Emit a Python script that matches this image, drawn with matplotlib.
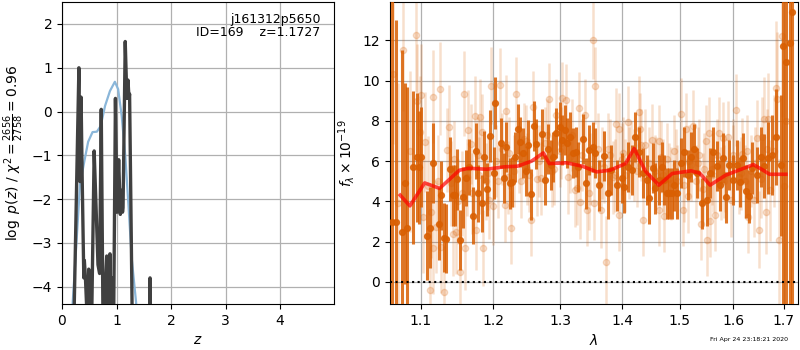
import numpy as np
import matplotlib
matplotlib.use('Agg')
import matplotlib.pyplot as plt
from matplotlib.ticker import FixedLocator, NullLocator, FormatStrFormatter

# ---- left panel: p(z)
z_pz = [0.20, 0.31, 0.33, 0.35, 0.37, 0.40, 0.41, 0.43, 0.45, 0.47, 0.49, 0.51,
        0.53, 0.59, 0.62, 0.66, 0.69, 0.72, 0.76, 0.78, 0.82, 0.84, 0.88, 0.90,
        0.92, 0.94, 0.98, 1.01, 1.04, 1.07, 1.09, 1.11, 1.12, 1.16, 1.19, 1.21,
        1.23, 1.24, 1.30]
logp = [-6.0, 1.0, -1.6, 0.33, -1.5, -3.8, -3.4, -3.8, -4.4, -6.0, -3.6, -6.0,
        -6.0, -0.9, -2.0, -3.5, -3.7, 0.05, -6.0, -4.4, -3.3, -6.0, -3.25, -6.0,
        -3.8, -6.0, 0.3, -2.3, -1.1, -2.35, -1.8, -2.3, -2.2, 1.6, 0.3, 0.72,
        0.3, 0.4, -6.0]
z_spike = [1.60, 1.615, 1.63]
logp_spike = [-6.0, -3.8, -6.0]

z_prior = [0.17, 0.196, 0.27, 0.33, 0.42, 0.48, 0.56, 0.64, 0.71, 0.79, 0.88,
           0.97, 1.03, 1.095, 1.16, 1.22, 1.28, 1.36, 1.40]
lp_prior = [-6.0, -4.37, -2.9, -1.67, -1.07, -0.69, -0.47, -0.46, -0.33, 0.13,
            0.47, 0.68, 0.51, -0.1, -1.0, -2.15, -3.37, -4.37, -6.0]

# ---- right panel: spectrum
wave_bin = [1.0620, 1.0678, 1.0753, 1.0789, 1.0823, 1.0895, 1.0947, 1.0974, 1.1004,
            1.1083, 1.1115, 1.1159, 1.1235, 1.1262, 1.1306, 1.1343, 1.1384, 1.1429,
            1.1466, 1.1488, 1.1535, 1.1567, 1.1605, 1.1660, 1.1716, 1.1752, 1.1776,
            1.1836, 1.1870, 1.1903, 1.1950, 1.2003, 1.2027, 1.2114, 1.2148, 1.2187,
            1.2246, 1.2276, 1.2309, 1.2358, 1.2393, 1.2432, 1.2472, 1.2507, 1.2552,
            1.2597, 1.2633, 1.2718, 1.2759, 1.2809, 1.2850, 1.2886, 1.2939, 1.2990,
            1.3032, 1.3068, 1.3104, 1.3157, 1.3199, 1.3241, 1.3278, 1.3358, 1.3412,
            1.3454, 1.3519, 1.3562, 1.3627, 1.3709, 1.3763, 1.3819, 1.3912, 1.4002,
            1.4041, 1.4096, 1.4171, 1.4227, 1.4295, 1.4352, 1.4421, 1.4467, 1.4524,
            1.4566, 1.4641, 1.4688, 1.4729, 1.4769, 1.4817, 1.4865, 1.4906, 1.4948,
            1.5027, 1.5087, 1.5146, 1.5208, 1.5268, 1.5310, 1.5409, 1.5494, 1.5557,
            1.5606, 1.5681, 1.5744, 1.5807, 1.5858, 1.5920, 1.6003, 1.6061, 1.6126,
            1.6190, 1.6254, 1.6306, 1.6371, 1.6469, 1.6536, 1.6602, 1.6686, 1.6754,
            1.6835, 1.6936, 1.6989, 1.7050, 1.7119, 1.7161]
flux_bin = [3.0, 3.0, 2.5, 4.9, 2.7, 5.7, 6.2, 5.7, 6.2,
            2.3, 2.7, 5.9, 2.9, 4.3, 2.2, 2.15, 5.6, 4.3,
            4.3, 5.1, 2.1, 4.2, 5.15, 5.7, 3.3, 6.5, 4.4,
            3.9, 6.2, 4.6, 7.25, 5.4, 8.9, 6.9, 5.15, 6.7,
            4.9, 4.95, 6.2, 7.6, 6.95, 6.4, 5.5, 6.8, 4.35,
            7.75, 6.85, 7.35, 5.05, 6.6, 5.8, 6.2, 7.4, 7.7,
            7.05, 7.55, 6.9, 7.2, 6.4, 6.45, 5.7, 7.1, 4.9,
            6.55, 6.7, 6.4, 4.8, 6.25, 4.4, 5.55, 4.8, 5.15,
            4.7, 5.7, 5.55, 7.2, 6.45, 5.4, 5.05, 4.15, 5.65,
            4.65, 5.05, 5.7, 5.05, 4.4, 4.4, 4.4, 4.8, 4.4,
            5.9, 6.45, 5.3, 6.2, 6.6, 5.4, 3.9, 4.05, 5.4,
            6.45, 5.75, 4.8, 6.15, 4.2, 5.8, 5.05, 5.8, 4.95,
            6.15, 4.5, 4.25, 5.65, 5.3, 6.2, 5.75, 6.15, 6.3,
            7.2, 5.8, 11.7, 10.95, 11.85, 13.4]
err_bin = [16, 10, 9, 5, 7, 3.8, 3.2, 2.8, 2.5,
           2.2, 2.0, 2.0, 1.8, 1.7, 1.7, 1.7, 1.6, 1.5,
           1.5, 1.5, 1.5, 1.5, 1.4, 1.4, 1.4, 1.4, 1.4,
           1.4, 1.3, 1.3, 1.3, 1.3, 1.3, 1.25, 1.25, 1.25,
           1.25, 1.25, 1.25, 1.25, 1.25, 1.25, 1.25, 1.25, 1.25,
           1.25, 1.25, 1.25, 1.25, 1.25, 1.25, 1.25, 1.25, 1.25,
           1.25, 1.25, 1.25, 1.25, 1.25, 1.25, 1.25, 1.25, 1.25,
           1.25, 1.25, 1.25, 1.25, 1.25, 1.25, 1.25, 1.25, 1.25,
           1.25, 1.25, 1.25, 1.25, 1.25, 1.25, 1.25, 1.25, 1.25,
           1.25, 1.25, 1.25, 1.25, 1.25, 1.25, 1.25, 1.25, 1.25,
           1.25, 1.25, 1.25, 1.25, 1.25, 1.25, 1.25, 1.25, 1.25,
           1.25, 1.25, 1.25, 1.25, 1.25, 1.25, 1.25, 1.25, 1.25,
           1.25, 1.3, 1.3, 1.3, 1.4, 1.5, 1.6, 1.8, 2.0,
           2.4, 3.5, 15, 15, 15, 15]

wave_raw = [1.0636, 1.0700, 1.0766, 1.0860, 1.0941, 1.0953, 1.0984, 1.1004, 1.1026,
            1.1049, 1.1092, 1.1115, 1.1135, 1.1158, 1.1167, 1.1203, 1.1230, 1.1257,
            1.1270, 1.1306, 1.1351, 1.1374, 1.1400, 1.1429, 1.1474, 1.1500, 1.1535,
            1.1560, 1.1581, 1.1600, 1.1637, 1.1675, 1.1700, 1.1738, 1.1752, 1.1790,
            1.1814, 1.1830, 1.1855, 1.1900, 1.1942, 1.1965, 1.1989, 1.2030, 1.2066,
            1.2090, 1.2163, 1.2187, 1.2230, 1.2261, 1.2300, 1.2334, 1.2400, 1.2450,
            1.2500, 1.2557, 1.2582, 1.2640, 1.2709, 1.2760, 1.2825, 1.2880, 1.2939,
            1.2990, 1.3032, 1.3094, 1.3150, 1.3225, 1.3260, 1.3294, 1.3305, 1.3385,
            1.3422, 1.3454, 1.3519, 1.3540, 1.3562, 1.3600, 1.3650, 1.3700, 1.3736,
            1.3800, 1.3850, 1.3902, 1.3945, 1.3957, 1.4000, 1.4050, 1.4096, 1.4150,
            1.4200, 1.4283, 1.4300, 1.4364, 1.4400, 1.4513, 1.4560, 1.4630, 1.4641,
            1.4700, 1.4729, 1.4780, 1.4850, 1.4900, 1.4960, 1.5027, 1.5056, 1.5117,
            1.5150, 1.5200, 1.5250, 1.5300, 1.5350, 1.5390, 1.5450, 1.5483, 1.5494,
            1.5531, 1.5560, 1.5620, 1.5660, 1.5718, 1.5760, 1.5794, 1.5850, 1.5907,
            1.5960, 1.6000, 1.6049, 1.6100, 1.6165, 1.6220, 1.6293, 1.6350, 1.6400,
            1.6469, 1.6502, 1.6568, 1.6602, 1.6640, 1.6686, 1.6720, 1.6800, 1.6847,
            1.6870, 1.6900, 1.6955, 1.7000, 1.7050,
            1.1440, 1.1620, 1.1780, 1.1925, 1.2120, 1.2210, 1.2370, 1.2480, 1.2530,
            1.2680, 1.2790, 1.2910, 1.3010, 1.3120, 1.3190, 1.3340, 1.3480, 1.3670,
            1.3770, 1.3880, 1.4020, 1.4120, 1.4250, 1.4330, 1.4460, 1.4590, 1.4670,
            1.4810, 1.4930, 1.5080, 1.5170, 1.5330, 1.5420, 1.5590, 1.5690, 1.5830,
            1.5990, 1.6140, 1.6260, 1.6420, 1.6540, 1.6660]
flux_raw = [10.35, 3.9, 11.5, 6.5, 12.25, 9.0, 7.45, 9.3, 3.25,
            6.95, 4.75, -0.4, 3.5, 1.7, 9.2, 2.75, 5.0, 9.6,
            1.75, -0.5, 6.55, 7.7, 4.9, 2.4, 2.5, 4.0, 0.5,
            4.4, 9.35, 1.7, 7.55, 6.85, 4.4, 8.25, 2.6, 5.3,
            8.2, 7.45, 1.7, 5.0, 4.05, 9.75, 3.75, 6.0, 5.0,
            9.8, 3.8, 8.5, 6.4, 2.7, 5.5, 9.35, 5.0, 7.1,
            5.6, 3.1, 8.7, 5.1, 5.15, 6.9, 9.1, 5.5, 8.3,
            6.5, 9.15, 9.05, 6.2, 4.55, 4.65, 8.65, 3.95, 8.3,
            3.6, 4.4, 12.0, 3.9, 9.75, 6.6, 3.6, 5.7, 1.0,
            6.3, 5.2, 7.85, 3.35, 7.6, 6.1, 5.3, 7.95, 6.2,
            5.8, 8.45, 7.6, 3.1, 6.8, 7.05, 5.5, 7.0, 3.6,
            5.3, 3.3, 6.1, 4.9, 6.5, 5.0, 8.35, 3.6, 7.6,
            4.25, 5.8, 7.75, 5.0, 6.3, 2.9, 5.6, 7.0, 2.1,
            7.4, 3.05, 5.3, 3.35, 7.4, 4.9, 7.15, 5.3, 7.2,
            4.05, 6.0, 8.55, 5.2, 6.35, 5.0, 3.25, 5.5, 4.05,
            7.15, 2.6, 7.2, 8.1, 3.5, 8.1, 4.55, 6.5, 9.65,
            9.1, 2.1, 12.2, 4.75, 8.0,
            6.1, 5.2, 6.3, 5.4, 6.6, 5.2, 6.2, 7.0, 5.3,
            6.0, 7.3, 5.6, 6.9, 5.2, 7.3, 6.3, 5.6, 5.9,
            6.6, 5.3, 6.4, 5.9, 5.5, 6.8, 5.9, 5.4, 6.2,
            5.1, 5.8, 4.8, 6.0, 5.9, 4.6, 5.6, 6.3, 5.0,
            6.3, 5.4, 6.5, 5.9, 5.1, 6.6]
err_raw = [3.5, 6, 3.0, 4, 2.8, 2.8, 2.8, 2.5, 2.8,
           2.5, 2.5, 2.5, 2.3, 2.3, 2.3, 2.3, 2.3, 2.3,
           2.3, 2.3, 2.1, 2.1, 2.1, 2.1, 2.1, 2.1, 2.1,
           2.1, 2.1, 2.1, 2.0, 2.0, 2.0, 2.0, 2.0, 1.9,
           1.9, 1.9, 1.9, 1.9, 1.9, 1.9, 1.9, 1.8, 1.8,
           1.8, 1.8, 1.8, 1.8, 1.8, 1.8, 1.8, 1.8, 1.8,
           1.8, 1.8, 1.8, 1.8, 1.8, 1.8, 1.8, 1.8, 1.8,
           1.8, 1.8, 1.8, 1.8, 1.8, 1.8, 1.8, 1.8, 1.8,
           1.8, 1.8, 1.9, 1.8, 1.9, 1.8, 1.9, 1.8, 2.3,
           1.8, 1.8, 1.8, 1.8, 1.8, 1.8, 1.8, 1.8, 1.8,
           1.8, 1.8, 1.8, 1.8, 1.8, 1.8, 1.8, 1.8, 1.8,
           1.8, 1.8, 1.8, 1.8, 1.8, 1.8, 1.8, 1.8, 1.8,
           1.8, 1.8, 1.8, 1.8, 1.8, 1.8, 1.8, 1.8, 1.8,
           1.8, 1.8, 1.8, 1.8, 1.8, 1.8, 1.8, 1.8, 1.8,
           1.8, 1.8, 1.8, 1.8, 1.8, 1.8, 1.8, 1.8, 1.8,
           1.9, 1.9, 2.0, 2.1, 2.1, 2.3, 2.5, 2.8, 3.3,
           3.3, 4, 4, 6, 8,
           1.9, 1.9, 1.9, 1.8, 1.8, 1.8, 1.8, 1.8, 1.8,
           1.8, 1.8, 1.8, 1.8, 1.8, 1.8, 1.8, 1.8, 1.8,
           1.8, 1.8, 1.8, 1.8, 1.8, 1.8, 1.8, 1.8, 1.8,
           1.8, 1.8, 1.8, 1.8, 1.8, 1.8, 1.8, 1.8, 1.8,
           1.8, 1.8, 1.8, 1.8, 1.9, 2.0]

wave_model = [1.073, 1.0856, 1.105, 1.125, 1.152, 1.165, 1.19, 1.216, 1.235, 1.256,
              1.274, 1.283, 1.31, 1.335, 1.358, 1.38, 1.406, 1.4205, 1.44, 1.4633,
              1.487, 1.521, 1.537, 1.556, 1.585, 1.61, 1.639, 1.655, 1.671, 1.704]
flux_model = [4.31, 3.78, 4.92, 4.65, 5.55, 5.65, 5.6, 5.72, 5.75, 6.0,
              6.41, 5.88, 5.92, 5.75, 5.47, 5.55, 5.88, 6.63, 5.5, 4.81,
              5.39, 5.52, 5.4, 4.81, 5.3, 5.55, 5.83, 5.6, 5.35, 5.35]

ptitle = 'j161312p5650\nID=169    z=1.1727'
stamp = 'Fri Apr 24 23:18:21 2020'

orange = '#d95f02'

fig = plt.figure(figsize=(8, 3.5), dpi=100)
ax1 = fig.add_axes([0.0775, 0.131, 0.34, 0.863])
ax2 = fig.add_axes([0.4875, 0.131, 0.51, 0.863])

ax1.plot(z_prior, lp_prior, color='#8ab6d9', lw=1.6, zorder=2)
ax1.plot(z_pz, logp, color='0.25', lw=2.4, zorder=3)
ax1.plot(z_spike, logp_spike, color='0.25', lw=2.4, zorder=3)
ax1.set_xlim(0, 4.99)
ax1.set_ylim(-4.4, 2.5)
ax1.set_xticks([0, 1, 2, 3, 4])
ax1.set_yticks([-4, -3, -2, -1, 0, 1, 2])
ax1.grid(color='#b0b0b0', lw=0.9)
ax1.set_axisbelow(True)
ax1.set_xlabel('$z$')
ax1.set_ylabel(r'$\log\ p(z)$ / $\chi^2=\frac{2656}{2758}=0.96$')
ax1.text(0.95, 0.965, ptitle, ha='right', va='top', fontsize=9,
         transform=ax1.transAxes, linespacing=1.05)

ax2.errorbar(wave_raw, flux_raw, yerr=err_raw, color=orange, alpha=0.2,
             marker='o', ms=4.5, ls='none', elinewidth=1.8, zorder=2)
ax2.errorbar(wave_bin, flux_bin, yerr=err_bin, color=orange, alpha=0.85,
             marker='o', ms=4.2, ls='none', elinewidth=2.2, zorder=3)
ax2.plot(wave_model, flux_model, color='r', alpha=0.7, lw=2.6, zorder=4)
ax2.axhline(0, color='k', ls=':', lw=1.5, zorder=5)

ax2.set_xscale('log')
ax2.set_xlim(1.06, 1.729)
ax2.set_ylim(-1.1, 13.9)
ax2.xaxis.set_major_locator(FixedLocator([1.1, 1.2, 1.3, 1.4, 1.5, 1.6, 1.7]))
ax2.xaxis.set_major_formatter(FormatStrFormatter('%.1f'))
ax2.xaxis.set_minor_locator(NullLocator())
ax2.set_yticks([0, 2, 4, 6, 8, 10, 12])
ax2.grid(color='#b0b0b0', lw=0.9)
ax2.set_axisbelow(True)
ax2.set_xlabel(r'$\lambda$')
ax2.set_ylabel(r'$f_\lambda\times10^{-19}$')

fig.text(0.985, 0.022, stamp, ha='right', va='bottom', fontsize=4.5)

fig.savefig('out.png', dpi=100)
